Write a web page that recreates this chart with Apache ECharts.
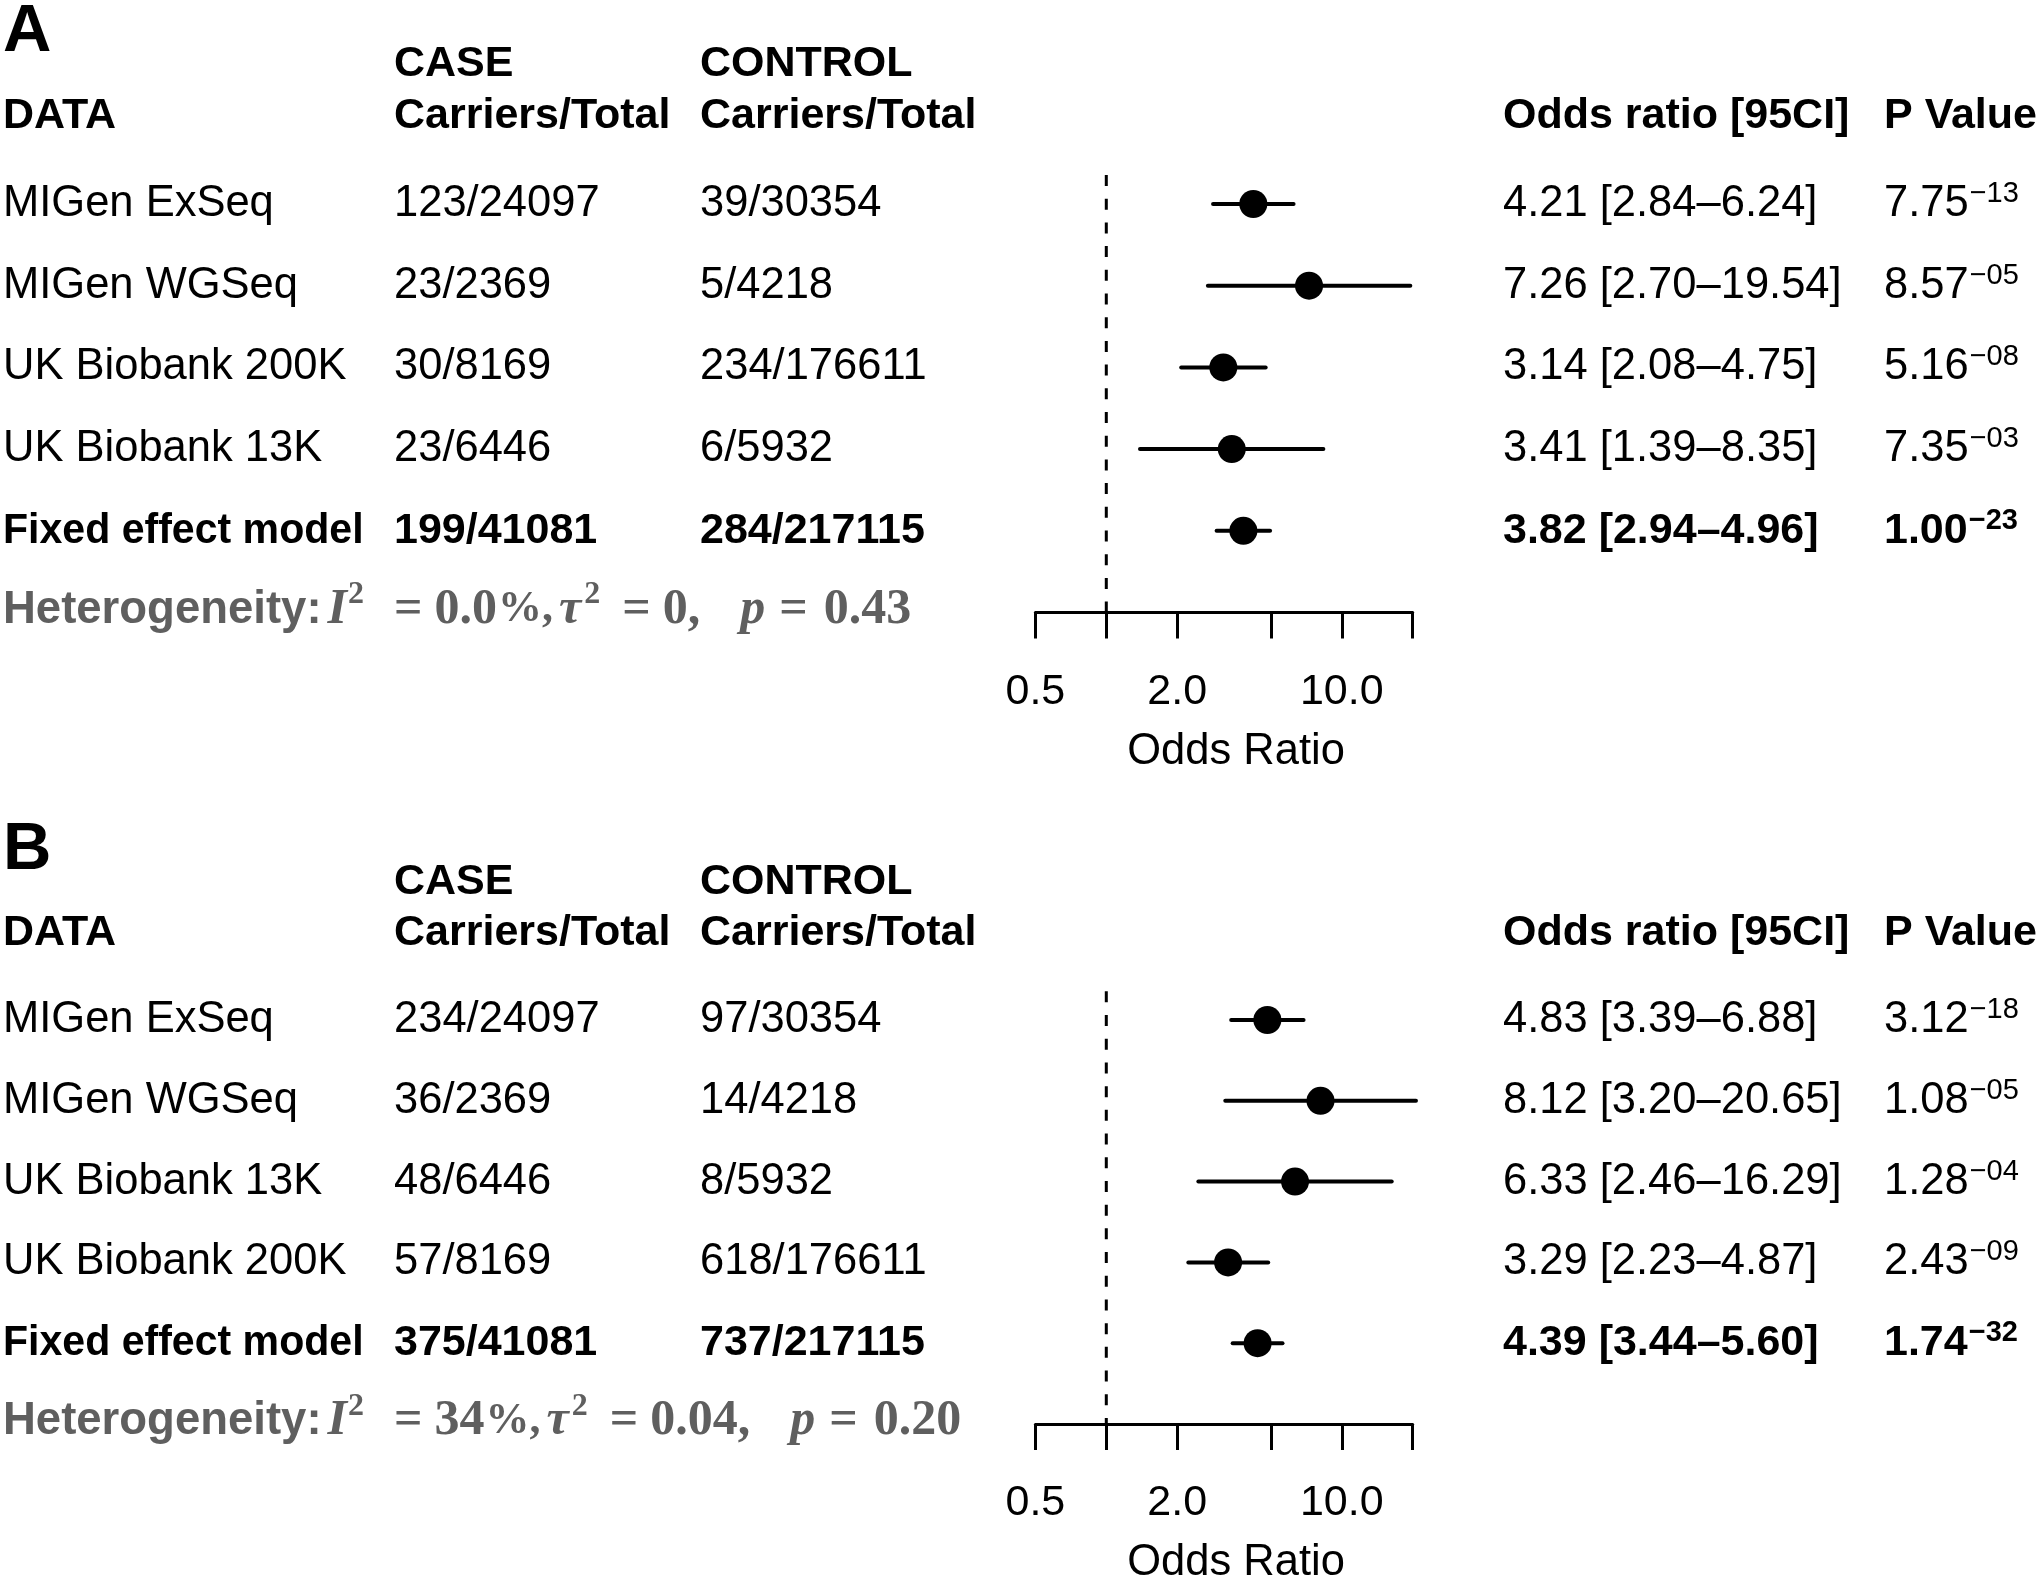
<!DOCTYPE html>
<html><head><meta charset="utf-8">
<script src="https://cdn.jsdelivr.net/npm/echarts@6/dist/echarts.min.js"></script>
<style>html,body{margin:0;padding:0;background:#fff}#c{width:2040px;height:1586px}</style>
</head><body><div id="c"></div>
<script>
// ---------- DATA ----------
const panelLetters = ['A', 'B'];
const headerTop = ['CASE', 'CONTROL'];
const headerBottom = ['DATA', 'Carriers/Total', 'Carriers/Total', 'Odds ratio [95CI]', 'P Value'];

const studiesA = ['MIGen ExSeq', 'MIGen WGSeq', 'UK Biobank 200K', 'UK Biobank 13K', 'Fixed effect model'];
const caseA = ['123/24097', '23/2369', '30/8169', '23/6446', '199/41081'];
const controlA = ['39/30354', '5/4218', '234/176611', '6/5932', '284/217115'];
const orA = [4.21, 7.26, 3.14, 3.41, 3.82];
const lowerA = [2.84, 2.70, 2.08, 1.39, 2.94];
const upperA = [6.24, 19.54, 4.75, 8.35, 4.96];
const pMantA = ['7.75', '8.57', '5.16', '7.35', '1.00'];
const pExpA = ['\u221213', '\u221205', '\u221208', '\u221203', '\u221223'];
const hetA = ['0.0', '0', '0.43'];   // I2 (%), tau2, p

const studiesB = ['MIGen ExSeq', 'MIGen WGSeq', 'UK Biobank 13K', 'UK Biobank 200K', 'Fixed effect model'];
const caseB = ['234/24097', '36/2369', '48/6446', '57/8169', '375/41081'];
const controlB = ['97/30354', '14/4218', '8/5932', '618/176611', '737/217115'];
const orB = [4.83, 8.12, 6.33, 3.29, 4.39];
const lowerB = [3.39, 3.20, 2.46, 2.23, 3.44];
const upperB = [6.88, 20.65, 16.29, 4.87, 5.60];
const pMantB = ['3.12', '1.08', '1.28', '2.43', '1.74'];
const pExpB = ['\u221218', '\u221205', '\u221204', '\u221209', '\u221232'];
const hetB = ['34', '0.04', '0.20'];

const tickValues = [0.5, 1, 2, 5, 10, 20];
const tickLabelValues = [0.5, 2, 10];
const referenceOR = 1;
const axisName = 'Odds Ratio';

// ---------- LAYOUT ----------
const L = Math.log10;
const SANS = '"Liberation Sans", Arial, Helvetica, sans-serif';
const SERIF = '"Liberation Serif", "DejaVu Serif", serif';
const FSR = 43.5, FSB = 43;
const COLX = [3, 394, 700, 1503, 1884];
const ROW0 = 204, ROWH = 81.7, PANEL_OFFSET = 818;
const YMIN = -2.2, YMAX = 5;
const rowLetter = -2.10, rowHeadTop = -1.71, rowHead = -1.08, rowHet = 4.97, dashTop = -0.355;
const HET_COLOR = '#5f5f5f';

const mctx = document.createElement('canvas').getContext('2d');
function textWidth(text, s) {
  mctx.font = (s.fontStyle || 'normal') + ' ' + (s.fontWeight || 'normal') + ' ' + s.fontSize + 'px ' + s.fontFamily;
  return mctx.measureText(text).width;
}
// pieces: [{text, s:{fontFamily,fontSize,fontWeight,fontStyle}, gap, dy}]
function inlineRun(x0, y, pieces, fill) {
  let x = x0;
  return pieces.map(p => {
    x += p.gap || 0;
    const el = {type: 'text', x: x, y: y + (p.dy || 0),
      style: Object.assign({text: p.text, fill: fill, align: 'left', verticalAlign: 'middle'}, p.s)};
    x += textWidth(p.text, p.s);
    return el;
  });
}

const panels = [
  {studies: studiesA, cases: caseA, controls: controlA, or: orA, lo: lowerA, hi: upperA, pm: pMantA, pe: pExpA, het: hetA},
  {studies: studiesB, cases: caseB, controls: controlB, or: orB, lo: lowerB, hi: upperB, pm: pMantB, pe: pExpB, het: hetB}
];

const grids = [], xAxes = [], yAxes = [], series = [];

panels.forEach((P, pi) => {
  const top = ROW0 + pi * PANEL_OFFSET + YMIN * ROWH;
  grids.push({left: 1035.4, width: 377.3, top: top, height: (YMAX - YMIN) * ROWH, containLabel: false});
  xAxes.push({
    type: 'value', gridIndex: pi, min: L(tickValues[0]), max: L(tickValues[tickValues.length - 1]),
    splitLine: {show: false},
    axisLine: {show: true, onZero: false, lineStyle: {color: '#000', width: 3}},
    axisTick: {show: true, length: 26, inside: false, customValues: tickValues.map(L), lineStyle: {color: '#000', width: 3}},
    axisLabel: {show: true, customValues: tickLabelValues.map(L), margin: 58, color: '#000', fontSize: 43, fontFamily: SANS,
      formatter: v => Math.pow(10, v).toFixed(1)},
    name: axisName, nameLocation: 'middle', nameGap: 117,
    nameTextStyle: {color: '#000', fontSize: 43.5, fontFamily: SANS, padding: [0, 0, 0, 24]}
  });
  yAxes.push({type: 'value', gridIndex: pi, inverse: true, min: YMIN, max: YMAX, show: false});

  // reference dashed line at OR = 1
  series.push({
    type: 'custom', xAxisIndex: pi, yAxisIndex: pi, clip: false, silent: true,
    data: [[L(referenceOR), dashTop, YMAX]],
    renderItem: (params, api) => {
      const a = api.coord([api.value(0), api.value(1)]);
      const b = api.coord([api.value(0), api.value(2)]);
      return {type: 'line', shape: {x1: a[0], y1: a[1], x2: b[0], y2: b[1]},
        style: {stroke: '#000', lineWidth: 3, lineDash: [11, 12.7]}};
    }
  });

  // confidence intervals
  series.push({
    type: 'custom', xAxisIndex: pi, yAxisIndex: pi, clip: false, silent: true,
    data: P.or.map((v, r) => [L(P.lo[r]), L(P.hi[r]), r]),
    renderItem: (params, api) => {
      const a = api.coord([api.value(0), api.value(2)]);
      const b = api.coord([api.value(1), api.value(2)]);
      return {type: 'line', shape: {x1: a[0], y1: a[1], x2: b[0], y2: b[1]},
        style: {stroke: '#000', lineWidth: 4, lineCap: 'round'}};
    }
  });

  // point estimates
  series.push({
    type: 'scatter', xAxisIndex: pi, yAxisIndex: pi, silent: true, symbol: 'circle', symbolSize: 28,
    itemStyle: {color: '#000', opacity: 1}, data: P.or.map((v, r) => [L(v), r]), z: 5
  });

  // table text
  const rowsY = [rowLetter, rowHeadTop, rowHead].concat(P.studies.map((s, r) => r)).concat([rowHet]);
  series.push({
    type: 'custom', xAxisIndex: pi, yAxisIndex: pi, clip: false, silent: true,
    data: rowsY.map(y => [0, y]),
    renderItem: (params, api) => {
      const i = params.dataIndex;
      const y = api.coord([0, api.value(1)])[1];
      const base = {fontFamily: SANS, fontSize: FSR, fill: '#000', align: 'left', verticalAlign: 'middle'};
      const t = (x, text, extra, props) => Object.assign({type: 'text', x: x, y: y, style: Object.assign({}, base, {text: text}, extra || {})}, props || {});
      if (i === 0) {
        return {type: 'group', children: [t(COLX[0], panelLetters[pi], {fontSize: 67, fontWeight: 'bold'})]};
      }
      if (i === 1) {
        return {type: 'group', children: [
          t(COLX[1], headerTop[0], {fontWeight: 'bold', fontSize: FSB}),
          t(COLX[2], headerTop[1], {fontWeight: 'bold', fontSize: FSB})
        ]};
      }
      if (i === 2) {
        return {type: 'group', children: headerBottom.map((h, k) => t(COLX[k], h, {fontWeight: 'bold', fontSize: FSB}))};
      }
      if (i === rowsY.length - 1) {
        const h = P.het;
        const hb = {fontFamily: SANS, fontWeight: 'bold', fontSize: 45.5};
        const mi = {fontFamily: SERIF, fontWeight: 'bold', fontStyle: 'italic', fontSize: 50};
        const mn = {fontFamily: SERIF, fontWeight: 'bold', fontSize: 50};
        const pc = {fontFamily: SERIF, fontWeight: 'bold', fontSize: 44};
        const ms = {fontFamily: SERIF, fontWeight: 'bold', fontSize: 32};
        const pieces = [
          {text: 'Heterogeneity:', s: hb},
          {text: 'I', s: mi, gap: 6},
          {text: '2', s: ms, gap: 1, dy: -15},
          {text: '=', s: mn, gap: 30},
          {text: h[0], s: mn, gap: 12},
          {text: '%,', s: pc, gap: 1},
          {text: '\u03c4', s: mi, gap: 6},
          {text: '2', s: ms, gap: 3, dy: -15},
          {text: '=', s: mn, gap: 22},
          {text: h[1] + ',', s: mn, gap: 12},
          {text: 'p', s: mi, gap: 40},
          {text: '=', s: mn, gap: 14},
          {text: h[2], s: mn, gap: 16}
        ];
        return {type: 'group', children: inlineRun(COLX[0], y, pieces, HET_COLOR)};
      }
      const r = i - 3;
      const isBold = r === P.studies.length - 1;
      const bold = isBold ? {fontWeight: 'bold', fontSize: FSB} : {};
      const orTxt = P.or[r].toFixed(2) + ' [' + P.lo[r].toFixed(2) + '\u2013' + P.hi[r].toFixed(2) + ']';
      const w = isBold ? 'bold' : 'normal';
      const studyEl = t(COLX[0], P.studies[r], bold, isBold ? {scaleX: 0.955} : null);
      return {type: 'group', children: [
        studyEl,
        t(COLX[1], P.cases[r], bold),
        t(COLX[2], P.controls[r], bold),
        t(COLX[3], orTxt, bold)
      ].concat(inlineRun(COLX[4], y, [
        {text: P.pm[r], s: {fontFamily: SANS, fontSize: isBold ? FSB : FSR, fontWeight: w}},
        {text: P.pe[r], s: {fontFamily: SANS, fontSize: 29, fontWeight: w}, gap: 1, dy: -10}
      ], '#000'))};
    }
  });
});

const chart = echarts.init(document.getElementById('c'), null, {renderer: 'canvas'});
chart.setOption({
  animation: false,
  backgroundColor: '#fff',
  textStyle: {fontFamily: SANS},
  grid: grids, xAxis: xAxes, yAxis: yAxes, series: series
});
</script></body></html>
